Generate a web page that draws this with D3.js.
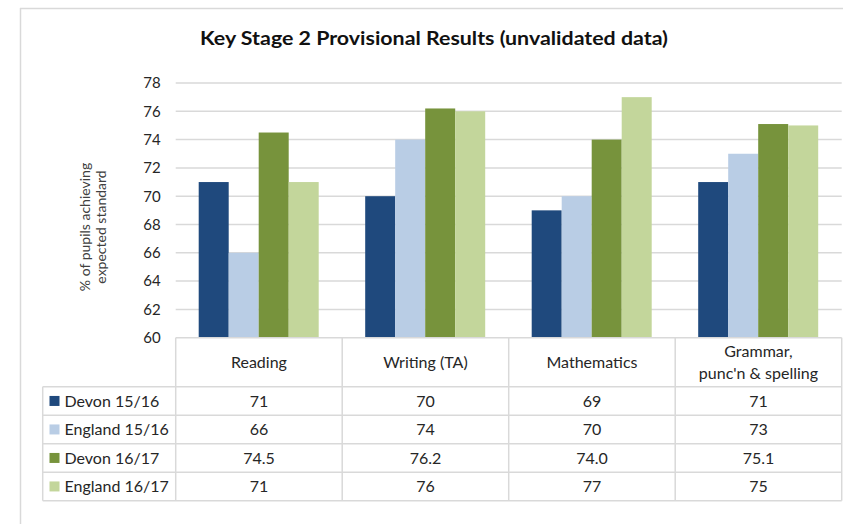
<!DOCTYPE html>
<html>
<head>
<meta charset="utf-8">
<script src="https://cdn.jsdelivr.net/npm/d3@7/dist/d3.min.js"></script>
<style>
  html, body { margin: 0; padding: 0; background: #fff; }
  svg { display: block; }
  text { font-family: Lato, "Open Sans", sans-serif; fill: #262626; }
</style>
</head>
<body>
<svg id="chart" width="843" height="524"></svg>
<script>
const categories = ["Reading", "Writing (TA)", "Mathematics", "Grammar,\npunc'n & spelling"];
const seriesNames = ["Devon 15/16", "England 15/16", "Devon 16/17", "England 16/17"];
const devon1516 = [71, 70, 69, 71];
const england1516 = [66, 74, 70, 73];
const devon1617 = [74.5, 76.2, 74.0, 75.1];
const england1617 = [71, 76, 77, 75];
const seriesValues = [devon1516, england1516, devon1617, england1617];
const seriesDecimals = [0, 0, 1, 0];
const colors = ["#1F497D", "#B9CDE5", "#77933C", "#C3D69B"];
const yTicks = [60, 62, 64, 66, 68, 70, 72, 74, 76, 78];

const svg = d3.select("#chart");
const W = 843, H = 524;
const plotLeft = 175.7, plotRight = 841.7;
const plotTop = 83, plotBottom = 337.7;
const legendLeft = 42.7;
const headerBottom = 386.7;
const rowH = 28.5;
const grid = "#d9d9d9";

// outer frame
svg.append("line").attr("x1", 20).attr("x2", W).attr("y1", 8.5).attr("y2", 8.5)
  .attr("stroke", grid).attr("stroke-width", 1.5);
svg.append("line").attr("x1", 20.5).attr("x2", 20.5).attr("y1", 8).attr("y2", H)
  .attr("stroke", grid).attr("stroke-width", 1.5);

// title
svg.append("text").attr("x", 434).attr("y", 45)
  .attr("text-anchor", "middle")
  .attr("font-size", 19).attr("font-weight", "bold")
  .attr("textLength", 468).attr("lengthAdjust", "spacingAndGlyphs")
  .style("fill", "#111")
  .text("Key Stage 2 Provisional Results (unvalidated data)");

const y = d3.scaleLinear().domain([60, 78]).range([plotBottom, plotTop]);
const x0 = d3.scaleBand().domain(categories).range([plotLeft, plotRight]);
const x1 = d3.scaleBand().domain(seriesNames).range([23, 143]);

// gridlines
svg.append("g").selectAll("line").data(yTicks.filter(t => t > 60)).join("line")
  .attr("x1", plotLeft).attr("x2", plotRight)
  .attr("y1", d => y(d)).attr("y2", d => y(d))
  .attr("stroke", grid).attr("stroke-width", 1.5);

// y axis via d3 axis (labels only)
const yAxis = svg.append("g").attr("transform", `translate(${plotLeft},0)`)
  .call(d3.axisLeft(y).tickValues(yTicks).tickSize(0).tickPadding(15));
yAxis.select(".domain").remove();
yAxis.selectAll("text").attr("font-size", 15).style("font-family", "Lato, sans-serif").attr("fill", "#404040");

// y axis title
[["% of pupils achieving", 90], ["expected standard", 105.5]].forEach(([t, xx]) => {
  svg.append("text")
    .attr("transform", `translate(${xx},227) rotate(-90)`)
    .attr("text-anchor", "middle")
    .attr("font-size", 14).style("fill", "#404040")
    .text(t);
});

// bars
const gBars = svg.append("g");
categories.forEach((c, ci) => {
  seriesNames.forEach((s, si) => {
    const v = seriesValues[si][ci];
    gBars.append("rect")
      .attr("x", x0(c) + x1(s))
      .attr("width", x1.bandwidth())
      .attr("y", y(v))
      .attr("height", y(60) - y(v))
      .attr("fill", colors[si]);
  });
});

// data table
const tableBottom = headerBottom + rowH * seriesNames.length;
const tb = svg.append("g");
const line = (x1_, y1_, x2_, y2_) => tb.append("line")
  .attr("x1", x1_).attr("y1", y1_).attr("x2", x2_).attr("y2", y2_)
  .attr("stroke", grid).attr("stroke-width", 1.5);

line(plotLeft, plotBottom, plotRight, plotBottom);
categories.forEach((c, i) => line(x0(c), plotBottom, x0(c), tableBottom));
line(plotRight, plotBottom, plotRight, tableBottom);
line(legendLeft, headerBottom, legendLeft, tableBottom);
for (let r = 0; r <= seriesNames.length; r++) {
  line(legendLeft, headerBottom + r * rowH, plotRight, headerBottom + r * rowH);
}

// header labels
categories.forEach(c => {
  const lines = c.split("\n");
  const cx = x0(c) + x0.bandwidth() / 2;
  const cy = (plotBottom + headerBottom) / 2;
  lines.forEach((l, li) => {
    tb.append("text")
      .attr("x", cx)
      .attr("y", cy + (li - (lines.length - 1) / 2) * 21.5)
      .attr("dy", "0.35em")
      .attr("text-anchor", "middle")
      .attr("font-size", 16)
      .text(l);
  });
});

// rows
seriesNames.forEach((s, si) => {
  const cy = headerBottom + si * rowH + rowH / 2;
  tb.append("rect").attr("x", 49.5).attr("y", cy - 5).attr("width", 10).attr("height", 10)
    .attr("fill", colors[si]);
  tb.append("text").attr("x", 64.5).attr("y", cy).attr("dy", "0.35em")
    .attr("font-size", 16).text(s);
  const fmt = d3.format("." + seriesDecimals[si] + "f");
  categories.forEach((c, ci) => {
    tb.append("text")
      .attr("x", x0(c) + x0.bandwidth() / 2)
      .attr("y", cy).attr("dy", "0.35em")
      .attr("text-anchor", "middle")
      .attr("font-size", 16)
      .text(fmt(seriesValues[si][ci]));
  });
});
</script>
</body>
</html>
